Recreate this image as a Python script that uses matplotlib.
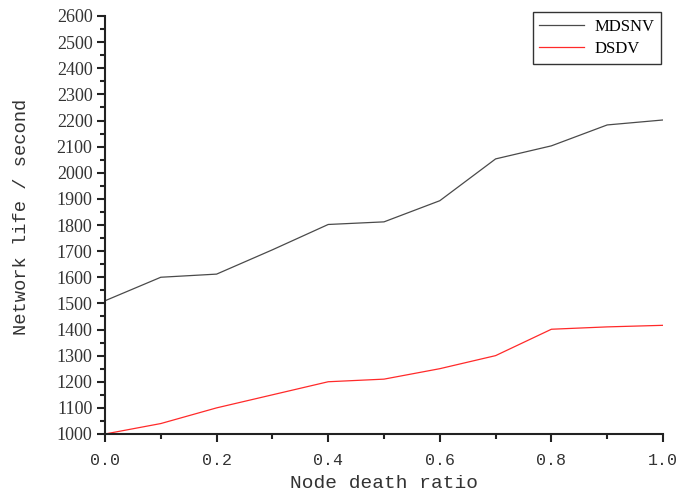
import matplotlib
matplotlib.use("Agg")
import matplotlib.pyplot as plt
from matplotlib.ticker import MultipleLocator

death_ratio = [0.0, 0.1, 0.2, 0.3, 0.4, 0.5, 0.6, 0.7, 0.8, 0.9, 1.0]
mdsnv = [1510, 1600, 1612, 1705, 1802, 1812, 1893, 2053, 2103, 2183, 2202]
dsdv = [1000, 1040, 1100, 1150, 1200, 1210, 1250, 1300, 1401, 1410, 1416]
series_names = ["MDSNV", "DSDV"]
x_label = "Node death ratio"
y_label = "Network life / second"

W, H = 678, 495
fig = plt.figure(figsize=(W / 100, H / 100), dpi=100)
ax = fig.add_axes([105 / W, 1 - 434 / H, (663 - 105) / W, (434 - 16) / H])

ax.plot(death_ratio, mdsnv, color="#4a4a4a", lw=0.9, label=series_names[0])
ax.plot(death_ratio, dsdv, color="#ff2a2a", lw=0.9, label=series_names[1])

ax.set_xlim(0, 1.0)
ax.set_ylim(1000, 2600)
ax.xaxis.set_major_locator(MultipleLocator(0.2))
ax.xaxis.set_minor_locator(MultipleLocator(0.1))
ax.yaxis.set_major_locator(MultipleLocator(100))
ax.yaxis.set_minor_locator(MultipleLocator(50))
ax.xaxis.set_major_formatter(plt.FuncFormatter(lambda v, p: f"{v:.1f}"))

for s in ["top", "right"]:
    ax.spines[s].set_visible(False)
for s in ["left", "bottom"]:
    ax.spines[s].set_linewidth(1.5)
    ax.spines[s].set_color("#222222")

ax.tick_params(which="major", direction="out", length=6, width=1.5, color="#222222")
ax.tick_params(which="minor", direction="out", length=3.5, width=1.5, color="#222222")
ax.tick_params(axis="x", pad=8)
ax.tick_params(axis="y", pad=3)

for lab in ax.get_yticklabels():
    lab.set_fontfamily("Liberation Serif")
    lab.set_fontsize(13)
    lab.set_color("#333333")
for lab in ax.get_xticklabels():
    lab.set_fontfamily("Liberation Mono")
    lab.set_fontsize(12)
    lab.set_color("#333333")

ax.set_xlabel(x_label, fontfamily="Liberation Mono", fontsize=14, color="#333333", labelpad=5)
ax.set_ylabel(y_label, fontfamily="Liberation Mono", fontsize=13.5, color="#333333")
ax.yaxis.set_label_coords((22 - 105) / 558, (434 - 217) / 418)
ax.yaxis.label.set_verticalalignment("center")

leg = ax.legend(loc="upper right", bbox_to_anchor=(661 / W, 1 - 12 / H),
                bbox_transform=fig.transFigure, borderaxespad=0,
                prop={"family": "Liberation Serif", "size": 12},
                handlelength=2.7, handletextpad=0.6, fancybox=False, framealpha=1,
                edgecolor="#333333", borderpad=0.4, labelspacing=0.4)
leg.get_frame().set_linewidth(1.0)

fig.savefig("out.png", dpi=100)
